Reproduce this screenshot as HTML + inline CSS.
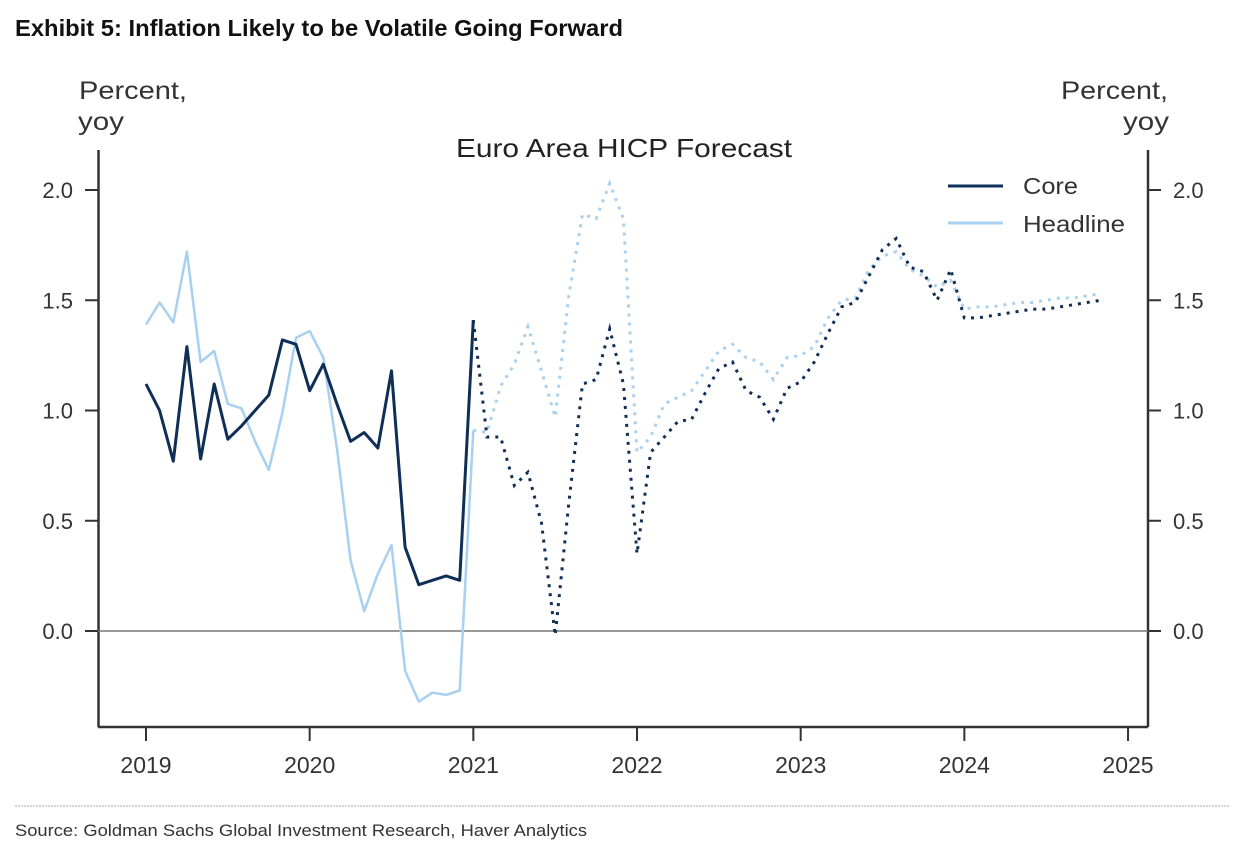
<!DOCTYPE html>
<html><head><meta charset="utf-8"><style>
body{margin:0;background:#fff;width:1235px;height:853px;overflow:hidden;font-family:"Liberation Sans",sans-serif}
svg text{font-family:"Liberation Sans",sans-serif}
</style></head><body>
<svg id="chart" width="1235" height="853" viewBox="0 0 1235 853">
<text x="15" y="36" font-size="23" font-weight="bold" fill="#111" textLength="608" lengthAdjust="spacingAndGlyphs">Exhibit 5: Inflation Likely to be Volatile Going Forward</text>
<text x="79" y="99" font-size="25" fill="#333" textLength="108" lengthAdjust="spacingAndGlyphs">Percent,</text>
<text x="78" y="130" font-size="25" fill="#333" textLength="46" lengthAdjust="spacingAndGlyphs">yoy</text>
<text x="1061" y="99" font-size="25" fill="#333" textLength="107" lengthAdjust="spacingAndGlyphs">Percent,</text>
<text x="1123" y="130" font-size="25" fill="#333" textLength="46" lengthAdjust="spacingAndGlyphs">yoy</text>
<text x="456" y="157" font-size="26" fill="#222" textLength="336" lengthAdjust="spacingAndGlyphs">Euro Area HICP Forecast</text>
<g id="axes"></g>
<g id="series"></g>
<line x1="948" y1="186" x2="1003" y2="186" stroke="#0f2f57" stroke-width="3"/>
<text x="1023" y="194" font-size="23" fill="#333" textLength="55" lengthAdjust="spacingAndGlyphs">Core</text>
<line x1="948" y1="223" x2="1003" y2="223" stroke="#a8d0f0" stroke-width="3"/>
<text x="1023" y="232" font-size="23" fill="#333" textLength="102" lengthAdjust="spacingAndGlyphs">Headline</text>
<line x1="15" y1="806" x2="1230" y2="806" stroke="#aaa" stroke-width="1" stroke-dasharray="2,1"/>
<text x="15" y="836" font-size="17" fill="#333" textLength="572" lengthAdjust="spacingAndGlyphs">Source: Goldman Sachs Global Investment Research, Haver Analytics</text>
</svg>
<script>
const years = ["2019","2020","2021","2022","2023","2024","2025"];
const yTicks = [0.0, 0.5, 1.0, 1.5, 2.0];
const coreActual = [1.12,1.00,0.77,1.29,0.78,1.12,0.87,0.93,1.00,1.07,1.32,1.30,1.09,1.21,1.03,0.86,0.90,0.83,1.18,0.38,0.21,0.23,0.25,0.23,1.41];
const headlineActual = [1.39,1.49,1.40,1.72,1.22,1.27,1.03,1.01,0.86,0.73,0.99,1.33,1.36,1.24,0.83,0.32,0.09,0.26,0.39,-0.18,-0.32,-0.28,-0.29,-0.27,0.91];
const coreForecast = [1.41,0.88,0.88,0.66,0.72,0.49,-0.02,0.58,1.12,1.14,1.37,1.12,0.35,0.81,0.88,0.95,0.96,1.08,1.19,1.22,1.09,1.06,0.96,1.10,1.13,1.22,1.35,1.47,1.49,1.61,1.73,1.78,1.65,1.63,1.50,1.64,1.42,1.42,1.43,1.44,1.45,1.46,1.46,1.47,1.48,1.49,1.50];
const headlineForecast = [0.91,0.90,1.11,1.21,1.38,1.18,0.97,1.52,1.89,1.87,2.03,1.87,0.81,0.88,1.03,1.06,1.09,1.18,1.27,1.30,1.24,1.22,1.14,1.24,1.25,1.29,1.42,1.50,1.51,1.64,1.70,1.72,1.64,1.61,1.56,1.59,1.46,1.47,1.47,1.48,1.49,1.49,1.50,1.51,1.51,1.52,1.53];
const NS="http://www.w3.org/2000/svg";
const x0=146, perYear=163.67;
function xm(m){return x0+m*perYear/12;}
function yv(v){return 631-v*220.5;}
function mk(tag,attrs,parent){const e=document.createElementNS(NS,tag);for(const k in attrs)e.setAttribute(k,attrs[k]);parent.appendChild(e);return e;}
const ax=document.getElementById('axes'), sg=document.getElementById('series');
let e;
e=mk('line',{x1:98.5,y1:150,x2:98.5,y2:727,stroke:'#333','stroke-width':2.5},ax);


e=mk('line',{x1:1148,y1:150,x2:1148,y2:727,stroke:'#333','stroke-width':2.5},ax);


e=mk('line',{x1:98,y1:727,x2:1148,y2:727,stroke:'#333','stroke-width':2.5},ax);


e=mk('line',{x1:98,y1:yv(0),x2:1148,y2:yv(0),stroke:'#777','stroke-width':1.5},ax);


yTicks.forEach(t=>{
  const y=yv(t);
  e=mk('line',{x1:85,y1:y,x2:98,y2:y,stroke:'#333','stroke-width':2},ax);
  
  
  e=mk('line',{x1:1148,y1:y,x2:1161,y2:y,stroke:'#333','stroke-width':2},ax);
  
  
  e=mk('text',{x:73,y:y+8,'font-size':22,fill:'#333','text-anchor':'end'},ax);
  e.textContent=t.toFixed(1);
  
  
  e=mk('text',{x:1173,y:y+8,'font-size':22,fill:'#333'},ax);
  e.textContent=t.toFixed(1);
  
  
});
years.forEach((yr,i)=>{
  const x=xm(i*12);
  e=mk('line',{x1:x,y1:727,x2:x,y2:741,stroke:'#333','stroke-width':2},ax);
  
  
  e=mk('text',{x:x,y:773,'font-size':23,fill:'#333','text-anchor':'middle'},ax);
  e.textContent=yr;
  
  
});
function pts(arr,start){return arr.map((v,i)=>xm(start+i).toFixed(1)+','+yv(v).toFixed(1)).join(' ');}
e=mk('polyline',{points:pts(headlineActual,0),fill:'none',stroke:'#a8d0f0','stroke-width':2.5,'stroke-linejoin':'round'},sg);


e=mk('polyline',{points:pts(coreActual,0),fill:'none',stroke:'#0f2f57','stroke-width':3,'stroke-linejoin':'round'},sg);


e=mk('polyline',{points:pts(headlineForecast,24),fill:'none',stroke:'#a8d0f0','stroke-width':3,'stroke-dasharray':'3,6'},sg);


e=mk('polyline',{points:pts(coreForecast,24),fill:'none',stroke:'#0f2f57','stroke-width':3,'stroke-dasharray':'3,6'},sg);


</script>
</body></html>
